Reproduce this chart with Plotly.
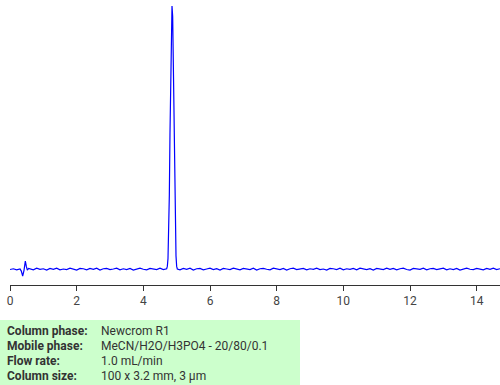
import plotly.graph_objects as go

# Retention time (min) and detector signal (relative units), rows of 10
time_min = [
    0.0, 0.1, 0.2, 0.3, 0.34, 0.38, 0.42, 0.46, 0.49, 0.52,
    0.56, 0.6, 0.7, 0.8, 0.9, 1.0, 1.1, 1.2, 1.3, 1.4,
    1.5, 1.6, 1.7, 1.8, 1.9, 2.0, 2.1, 2.2, 2.3, 2.4,
    2.5, 2.6, 2.7, 2.8, 2.9, 3.0, 3.1, 3.2, 3.3, 3.4,
    3.5, 3.6, 3.7, 3.8, 3.9, 4.0, 4.1, 4.2, 4.3, 4.4,
    4.5, 4.6, 4.7, 4.72, 4.74, 4.76, 4.78, 4.80, 4.82, 4.84,
    4.86, 4.88, 4.90, 4.92, 4.94, 4.96, 4.98, 5.00, 5.02, 5.1,
    5.2, 5.3, 5.4, 5.5, 5.6, 5.7, 5.8, 5.9, 6.0, 6.1,
    6.2, 6.3, 6.4, 6.5, 6.6, 6.7, 6.8, 6.9, 7.0, 7.1,
    7.2, 7.3, 7.4, 7.5, 7.6, 7.7, 7.8, 7.9, 8.0, 8.1,
    8.2, 8.3, 8.4, 8.5, 8.6, 8.7, 8.8, 8.9, 9.0, 9.1,
    9.2, 9.3, 9.4, 9.5, 9.6, 9.7, 9.8, 9.9, 10.0, 10.1,
    10.2, 10.3, 10.4, 10.5, 10.6, 10.7, 10.8, 10.9, 11.0, 11.1,
    11.2, 11.3, 11.4, 11.5, 11.6, 11.7, 11.8, 11.9, 12.0, 12.1,
    12.2, 12.3, 12.4, 12.5, 12.6, 12.7, 12.8, 12.9, 13.0, 13.1,
    13.2, 13.3, 13.4, 13.5, 13.6, 13.7, 13.8, 13.9, 14.0, 14.1,
    14.2, 14.3, 14.4, 14.5, 14.6, 14.7,
]
signal = [
    -0.002, 0.001, -0.003, 0.0, -0.008, -0.027, -0.005, 0.030, 0.010, -0.004,
    0.002, 0.0, -0.003, 0.003, -0.001, 0.001, -0.004, 0.002, -0.001, 0.003,
    -0.003, 0.0, -0.002, 0.003, -0.001, -0.004, 0.002, 0.001, -0.003, 0.002,
    -0.001, 0.003, -0.004, 0.001, 0.002, -0.002, 0.0, 0.003, -0.003, 0.001,
    -0.002, 0.002, -0.004, 0.001, 0.003, -0.001, -0.003, 0.002, 0.0, -0.002,
    0.003, -0.002, 0.001, 0.01, 0.04, 0.12, 0.28, 0.52, 0.76, 0.93,
    1.0, 0.96, 0.80, 0.57, 0.33, 0.15, 0.05, 0.01, 0.0, -0.003,
    0.002, -0.001, 0.003, -0.004, 0.001, 0.002, -0.003, 0.0, 0.003, -0.002,
    0.001, -0.004, 0.002, 0.0, -0.002, 0.003, -0.001, -0.003, 0.002, 0.001,
    -0.002, 0.003, -0.004, 0.001, 0.002, -0.001, -0.003, 0.003, 0.0, -0.002,
    0.002, -0.004, 0.001, 0.003, -0.002, 0.0, 0.002, -0.003, 0.001, -0.001,
    0.003, -0.002, 0.0, -0.004, 0.002, 0.001, -0.002, 0.003, -0.003, 0.001,
    -0.001, 0.002, -0.003, 0.003, 0.0, -0.002, 0.001, -0.004, 0.002, 0.0,
    -0.002, 0.003, -0.001, 0.002, -0.003, 0.001, 0.003, -0.002, -0.004, 0.002,
    0.0, -0.001, 0.003, -0.003, 0.001, 0.002, -0.002, 0.0, 0.003, -0.003,
    0.001, -0.002, 0.002, -0.004, 0.001, 0.003, -0.001, -0.002, 0.002, 0.0,
    -0.003, 0.002, -0.001, 0.003, -0.002, 0.001,
]
assert len(time_min) == len(signal)

x_ticks = [0, 2, 4, 6, 8, 10, 12, 14]

info_labels = ["Column phase:", "Mobile phase:", "Flow rate:", "Column size:"]
info_values = ["Newcrom R1", "MeCN/H2O/H3PO4 - 20/80/0.1", "1.0 mL/min", "100 x 3.2 mm, 3 µm"]

W, H = 500, 385
ML, MR, MT, MB = 10, 0, 0, 100
PW, PH = W - ML - MR, H - MT - MB


def px_x(px):
    return (px - ML) / PW


def px_y(py):
    return (MT + PH - py) / PH


fig = go.Figure()
fig.add_trace(go.Scatter(x=time_min, y=signal, mode="lines",
                         line=dict(color="#0000ff", width=1.2), hoverinfo="skip"))

fig.update_layout(
    width=W, height=H,
    margin=dict(l=ML, r=MR, t=MT, b=MB),
    paper_bgcolor="white", plot_bgcolor="white",
    showlegend=False,
    font=dict(family="Roboto", size=12, color="#444"),
    xaxis=dict(range=[0, 14.7], tickvals=x_ticks, showgrid=False, zeroline=False,
               showline=True, linecolor="#333", linewidth=1,
               ticks="outside", ticklen=5, tickcolor="#333",
               tickfont=dict(family="Roboto", size=12, color="#444")),
    yaxis=dict(range=[-0.0608, 1.0228], visible=False, showgrid=False, zeroline=False),
)

fig.add_shape(type="rect", xref="paper", yref="paper",
              x0=px_x(0), x1=px_x(300), y0=px_y(320), y1=px_y(385),
              fillcolor="#ccffcc", line=dict(width=0), layer="below")

rows_y = [331, 346, 361, 376]
for lab, val, yy in zip(info_labels, info_values, rows_y):
    fig.add_annotation(xref="paper", yref="paper", x=px_x(5), y=px_y(yy),
                       text="<b>" + lab + "</b>", showarrow=False,
                       xanchor="left", yanchor="middle",
                       font=dict(family="Roboto", size=12, color="#333"))
    fig.add_annotation(xref="paper", yref="paper", x=px_x(99), y=px_y(yy),
                       text=val, showarrow=False,
                       xanchor="left", yanchor="middle",
                       font=dict(family="Roboto", size=12, color="#333"))

fig.write_html("out.html")
